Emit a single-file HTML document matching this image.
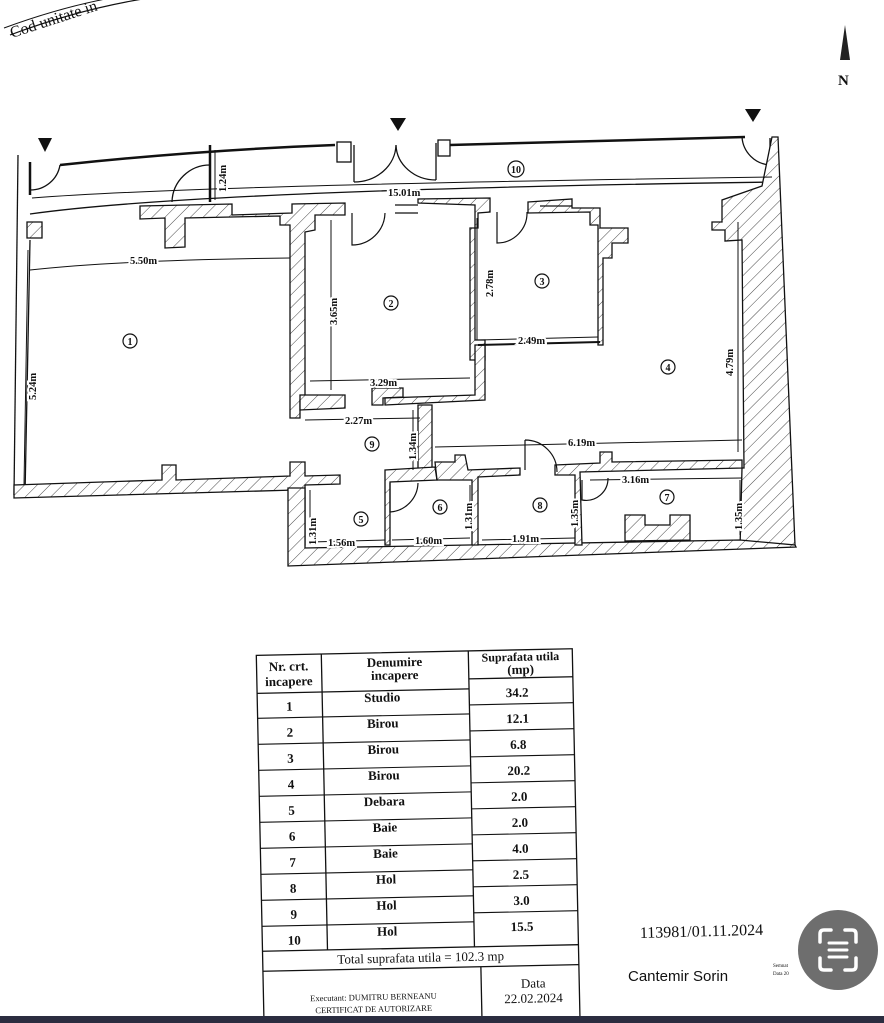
<!DOCTYPE html>
<html><head><meta charset="utf-8"><style>
html,body{margin:0;padding:0;background:#fff;width:884px;height:1023px;overflow:hidden}
svg{display:block}
text{font-family:"Liberation Serif",serif;fill:#111}
</style></head><body>
<svg width="884" height="1023" viewBox="0 0 884 1023" xmlns="http://www.w3.org/2000/svg">
<defs>
<pattern id="h" width="9" height="9" patternUnits="userSpaceOnUse" patternTransform="rotate(45)">
<rect width="9" height="9" fill="#fff"/><line x1="0" y1="0" x2="0" y2="9" stroke="#333" stroke-width="0.9"/>
</pattern>
</defs>
<g stroke="#111" fill="none" stroke-width="1.4">
<path d="M10,35 Q90,5 170,-5" stroke-width="1.2"/>
<path d="M4,28 Q80,0 150,-8" stroke-width="1"/>
</g>
<text x="12" y="38" font-size="16" transform="rotate(-18 12 38)">Cod unitate in</text>
<path d="M845,25 L840,60 L850,60 Z" fill="#222"/>
<text x="838" y="85" font-size="15" font-weight="bold">N</text>
<path d="M38,138 L52,138 L45,152Z M390,118 L406,118 L398,131Z M745,109 L761,109 L753,122Z" fill="#111"/>

<g stroke="#111" stroke-width="1.3" fill="none">
<path d="M60,165 Q200,150 335,145" stroke-width="2.5"/>
<path d="M450,145 L745,137" stroke-width="2.5"/>
<path d="M30,162 L30,195" stroke-width="2.5"/>
<path d="M30,190 A30,30 0 0 0 60,165"/>
<path d="M30,214 Q200,190 775,182"/>
<path d="M30,240 L25,495"/>
<path d="M18,155 L14,495"/>
<path d="M210,145 L210,202" stroke-width="2.5"/>
<path d="M172,202 A38,38 0 0 1 210,165"/>
<rect x="337" y="142" width="14" height="20" fill="#fff"/>
<rect x="438" y="140" width="12" height="16" fill="#fff"/>
<path d="M354,145 L354,182 M436,143 L436,180 M354,182 A42,38 0 0 0 396,145 M436,180 A40,36 0 0 1 396,145"/>
<path d="M742,137 A30,30 0 0 0 770,165 M770,138 L770,168" stroke-width="1.3"/>
</g>

<g fill="url(#h)" stroke="#111" stroke-width="1.3">
<path d="M140,206 L232,204 L232,215 L292,213 L292,204 L345,203 L345,215 L315,215 L315,230 L305,232 L305,395 L300,400 L300,418 L290,418 L290,225 L280,225 L280,216 L185,218 L185,247 L165,248 L165,218 L140,219 Z"/>
<path d="M418,203 L418,199 L490,198 L490,212 L478,213 L478,228 L470,228 L470,360 L485,360 L485,340 L475,340 L475,205 Z" />
<path d="M528,202 L572,199 L572,208 L600,208 L600,228 L628,228 L628,243 L612,243 L612,258 L603,258 L603,345 L598,345 L598,225 L590,225 L590,212 L528,213Z"/>
<path d="M300,395 L345,395 L345,408 L300,410 Z"/>
<path d="M372,388 L403,388 L403,397 L383,398 L383,405 L372,405 Z"/>
<path d="M385,405 L485,400 L485,345 L475,345 L475,395 L385,398 Z"/>
<path d="M418,405 L432,405 L432,470 L418,470 Z"/>
<path d="M27,222 L42,222 L42,238 L27,238Z"/>
<path d="M772,137 L778,137 L795,545 L740,548 L742,468 L744,468 L742,240 L725,241 L725,230 L712,230 L712,222 L722,222 L722,200 L762,186 Z"/>
<path d="M14,485 L162,480 L162,465 L176,465 L176,480 L290,476 L290,462 L305,462 L305,476 L340,475 L340,484 L305,485 L305,545 L295,545 L295,490 L14,498 Z"/>
<path d="M288,488 L305,488 L305,548 L740,540 L795,545 L796,547 L288,566 Z"/>
<path d="M385,470 L435,467 L437,480 L390,482 L390,545 L385,545 Z"/>
<path d="M435,462 L455,462 L455,455 L465,455 L468,470 L520,468 L520,475 L478,477 L478,545 L472,545 L472,480 L437,480Z"/>
<path d="M555,465 L600,463 L600,452 L612,452 L612,462 L742,460 L742,468 L580,472 L582,545 L575,545 L575,475 L555,475Z"/>
<path d="M625,515 L645,515 L645,525 L670,525 L670,515 L690,515 L690,540 L625,541Z"/>
</g>

<g stroke="#111" stroke-width="1.2" fill="none">
<path d="M352,213 L352,245 A33,33 0 0 0 385,213"/>
<path d="M497,212 L497,243 A30,30 0 0 0 527,212"/>
<path d="M525,440 L525,470 M525,440 A32,32 0 0 1 557,472"/>
<path d="M390,483 L390,512 A30,30 0 0 0 418,483"/>
<path d="M582,480 L582,500 A22,22 0 0 0 608,478"/>
<path d="M395,205 L418,205 M395,213 L418,213 M540,206 L572,206"/>
<path d="M478,345 L600,342" stroke-width="2"/>
</g>

<g stroke="#111" stroke-width="1" fill="none">
<path d="M32,198 Q200,185 772,177"/>
<path d="M30,270 Q120,260 290,258"/>
<path d="M215,150 L215,200"/>
<path d="M28,250 L24,485"/>
<path d="M331,220 L331,390"/>
<path d="M477,218 L477,340"/>
<path d="M310,381 L470,378"/>
<path d="M478,340 L598,337"/>
<path d="M305,420 L420,418"/>
<path d="M413,410 L413,470"/>
<path d="M435,447 L742,440"/>
<path d="M738,222 L738,452"/>
<path d="M590,480 L742,478"/>
<path d="M310,490 L310,535 M310,542 L385,540"/>
<path d="M392,540 L470,538 M470,485 L470,530"/>
<path d="M482,540 L575,538 M575,485 L575,530"/>
<path d="M740,480 L740,535"/>
</g>
<g font-size="10.5" font-weight="bold">
<g style="paint-order:stroke;stroke:#fff;stroke-width:4px">
<text x="388" y="196">15.01m</text>
<text x="130" y="264">5.50m</text>
<text x="370" y="386">3.29m</text>
<text x="518" y="344">2.49m</text>
<text x="345" y="424">2.27m</text>
<text x="568" y="446">6.19m</text>
<text x="622" y="483">3.16m</text>
<text x="328" y="546">1.56m</text>
<text x="415" y="544">1.60m</text>
<text x="512" y="542">1.91m</text>
<text transform="translate(226,192) rotate(-90)">1.24m</text>
<text transform="translate(337,325) rotate(-90)">3.65m</text>
<text transform="translate(493,297) rotate(-90)">2.78m</text>
<text transform="translate(733,376) rotate(-90)">4.79m</text>
<text transform="translate(36,400) rotate(-90)">5.24m</text>
<text transform="translate(416,460) rotate(-90)">1.34m</text>
<text transform="translate(316,545) rotate(-90)">1.31m</text>
<text transform="translate(472,530) rotate(-90)">1.31m</text>
<text transform="translate(578,527) rotate(-90)">1.35m</text>
<text transform="translate(742,530) rotate(-90)">1.35m</text>
</g>
</g>
<g font-size="11" font-weight="bold" text-anchor="middle">
<g fill="none" stroke="#111" stroke-width="1.2">
<circle cx="130" cy="341" r="7"/><circle cx="391" cy="303" r="7"/><circle cx="542" cy="281" r="7"/>
<circle cx="668" cy="367" r="7"/><circle cx="361" cy="519" r="7"/><circle cx="440" cy="507" r="7"/>
<circle cx="667" cy="497" r="7"/><circle cx="540" cy="505" r="7"/><circle cx="372" cy="444" r="7"/>
<circle cx="516" cy="169" r="8"/>
</g>
<text x="130" y="345" font-size="10">1</text><text x="391" y="307" font-size="10">2</text><text x="542" y="285" font-size="10">3</text>
<text x="668" y="371" font-size="10">4</text><text x="361" y="523" font-size="10">5</text><text x="440" y="511" font-size="10">6</text>
<text x="667" y="501" font-size="10">7</text><text x="540" y="509" font-size="10">8</text><text x="372" y="448" font-size="10">9</text>
<text x="516" y="173" font-size="10">10</text>
</g>

<g transform="rotate(-1.2 418 830)">
<g stroke="#111" stroke-width="1.3" fill="none">
<rect x="260" y="652" width="316" height="372"/>
<line x1="325" y1="652" x2="325" y2="948"/>
<line x1="472" y1="652" x2="472" y2="948"/>
<line x1="478" y1="968" x2="478" y2="1024"/>
<line x1="260" y1="690" x2="325" y2="690"/>
<line x1="472" y1="680" x2="576" y2="680"/>
<line x1="325" y1="690" x2="472" y2="690"/>
<line x1="260" y1="948" x2="576" y2="948"/>
<line x1="260" y1="968" x2="576" y2="968"/>
</g>
<g stroke="#111" stroke-width="1.1">
<line x1="260" y1="715" x2="472" y2="715"/><line x1="260" y1="741" x2="472" y2="741"/>
<line x1="260" y1="767" x2="472" y2="767"/><line x1="260" y1="793" x2="472" y2="793"/>
<line x1="260" y1="819" x2="472" y2="819"/><line x1="260" y1="845" x2="472" y2="845"/>
<line x1="260" y1="871" x2="472" y2="871"/><line x1="260" y1="897" x2="472" y2="897"/>
<line x1="260" y1="923" x2="472" y2="923"/>
<line x1="472" y1="706" x2="576" y2="706"/><line x1="472" y1="732" x2="576" y2="732"/>
<line x1="472" y1="758" x2="576" y2="758"/><line x1="472" y1="784" x2="576" y2="784"/>
<line x1="472" y1="810" x2="576" y2="810"/><line x1="472" y1="836" x2="576" y2="836"/>
<line x1="472" y1="862" x2="576" y2="862"/><line x1="472" y1="888" x2="576" y2="888"/>
<line x1="472" y1="914" x2="576" y2="914"/>
</g>
<g font-size="13" font-weight="bold" text-anchor="middle">
<text x="292" y="668">Nr. crt.</text><text x="292" y="683">incapere</text>
<text x="398" y="666">Denumire</text><text x="398" y="679">incapere</text>
<text x="524" y="663" font-size="12">Suprafata utila</text><text x="524" y="676">(mp)</text>
<text x="292" y="708">1</text><text x="292" y="734">2</text><text x="292" y="760">3</text><text x="292" y="786">4</text><text x="292" y="812">5</text>
<text x="292" y="838">6</text><text x="292" y="864">7</text><text x="292" y="890">8</text><text x="292" y="916">9</text><text x="292" y="942">10</text>
<text x="385" y="701">Studio</text><text x="385" y="727">Birou</text><text x="385" y="753">Birou</text><text x="385" y="779">Birou</text><text x="385" y="805">Debara</text>
<text x="385" y="831">Baie</text><text x="385" y="857">Baie</text><text x="385" y="883">Hol</text><text x="385" y="909">Hol</text><text x="385" y="935">Hol</text>
<text x="520" y="699">34.2</text><text x="520" y="725">12.1</text><text x="520" y="751">6.8</text><text x="520" y="777">20.2</text><text x="520" y="803">2.0</text>
<text x="520" y="829">2.0</text><text x="520" y="855">4.0</text><text x="520" y="881">2.5</text><text x="520" y="907">3.0</text><text x="520" y="933">15.5</text>
<text x="418" y="962" font-weight="normal" font-size="13">Total suprafata utila = 102.3 mp</text>
<text x="530" y="990" font-weight="normal" font-size="13">Data</text>
<text x="530" y="1005" font-weight="normal" font-size="13">22.02.2024</text>
<text x="370" y="999" font-size="8.5" font-weight="normal">Executant: DUMITRU BERNEANU</text>
<text x="370" y="1011" font-size="8.5" font-weight="normal">CERTIFICAT DE AUTORIZARE</text>
<text x="370" y="1023" font-size="8.5" font-weight="normal">Seria RO-GL-F Nr. 0160</text>
</g>
</g>
<text x="640" y="938" font-size="16" transform="rotate(-1.5 640 938)">113981/01.11.2024</text>
<text x="628" y="981" font-size="15" style="font-family:'Liberation Sans',sans-serif">Cantemir Sorin</text>
<text x="773" y="967" font-size="5">Semnat</text><text x="773" y="975" font-size="5">Data 20</text>
<circle cx="838" cy="950" r="40" fill="#6e6e6e"/>
<g stroke="#fff" stroke-width="3.5" fill="none" stroke-linecap="round">
<path d="M820,942 L820,934 Q820,930 824,930 L831,930 M845,930 L852,930 Q856,930 856,934 L856,942 M856,958 L856,966 Q856,970 852,970 L845,970 M831,970 L824,970 Q820,970 820,966 L820,958"/>
<path d="M829,943 L847,943 M829,950 L847,950 M829,957 L847,957" stroke-width="3"/>
</g>
<rect x="0" y="1016" width="884" height="7" fill="#2b2d40"/>
</svg>
</body></html>
